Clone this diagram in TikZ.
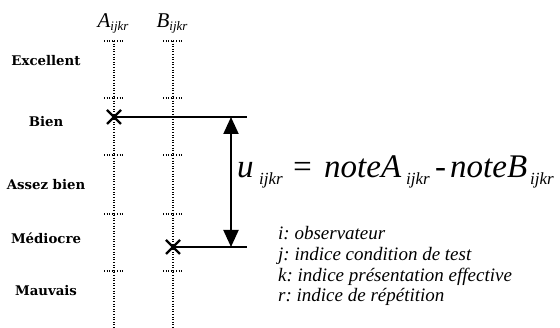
\documentclass[tikz,border=0pt]{standalone}
\usepackage{fontspec}
\setmainfont{Liberation Serif}
\newfontfamily\gradefont{DejaVu Serif}
\frenchspacing
\usetikzlibrary{arrows.meta,calc}
\tikzset{
  grade/.style={font=\gradefont\fontsize{13.3}{13.3}\selectfont\bfseries, anchor=center},
  scaleline/.style={line width=1.2pt, dash pattern=on 1pt off 1.6pt},
  mark cross/.style={line width=2.2pt},
  level/.style={line width=1.6pt},
  diffarrow/.style={line width=2pt, {Triangle[width=15pt,length=17pt]}-{Triangle[width=15pt,length=17pt]}},
  eqpart/.style={anchor=base west, inner sep=0pt, font=\fontsize{33}{33}\selectfont\itshape},
  eqsub/.style={anchor=base west, inner sep=0pt, font=\fontsize{17}{17}\selectfont\itshape},
  legend/.style={anchor=base west, inner sep=0pt, font=\fontsize{19}{19}\selectfont\itshape}
}
\newcommand{\ijkr}[1]{{\fontsize{#1}{#1}\selectfont\itshape ijkr}}
\begin{document}
\begin{tikzpicture}[x=1pt,y=-1pt]
\useasboundingbox (0,0) rectangle (560,328);

% grade labels
\node[grade] (exc) at (46,61) {Excellent};
\node[grade] (bien) at (46,122) {Bien};
\node[grade] (ab) at (46,185) {Assez bien};
\node[grade] (med) at (46,238) {Médiocre};
\node[grade] (mauv) at (46,291) {Mauvais};

% column headings
\node[anchor=base, inner sep=0pt] (hA) at (113,28)
  {{\fontsize{21}{21}\selectfont\itshape A}\raisebox{-3pt}{\ijkr{13}}};
\node[anchor=base, inner sep=0pt] (hB) at (172,28)
  {{\fontsize{21}{21}\selectfont\itshape B}\raisebox{-3pt}{\ijkr{13}}};

% rating scales
\foreach \sx/\nm in {114/A,173/B}{
  \coordinate (\nm top) at (\sx,41);
  \coordinate (\nm bot) at (\sx,328);
  \draw[scaleline] (\nm top) -- (\nm bot);
  \foreach \ty in {41,98,155,214,271}
    \draw[scaleline] (\sx-10,\ty) -- (\sx+9,\ty);
}

% marks and levels
\coordinate (mA) at (114,117);
\coordinate (mB) at (173,247);
\coordinate (eA) at (247,117);
\coordinate (eB) at (247,247);
\draw[mark cross] ($(mA)+(-7,-7)$) -- ($(mA)+(7,7)$) ($(mA)+(-7,7)$) -- ($(mA)+(7,-7)$);
\draw[mark cross] ($(mB)+(-7,-7)$) -- ($(mB)+(7,7)$) ($(mB)+(-7,7)$) -- ($(mB)+(7,-7)$);
\draw[level] (mA) -- (eA);
\draw[level] (mB) -- (eB);

% difference arrow
\coordinate (uA) at (231,117);
\coordinate (uB) at (231,247);
\draw[diffarrow] (uB) -- (uA);

% formula
\node[eqpart] (u) at (237,178) {u};
\node[eqsub] (us) at (259,185) {ijkr};
\node[eqpart] (eq) at (291,178) {=};
\node[eqpart] (nA) at (324,178) {noteA};
\node[eqsub] (nAs) at (406,185) {ijkr};
\node[eqpart] (minus) at (435,178) {-};
\node[eqpart] (nB) at (450,178) {noteB};
\node[eqsub] (nBs) at (530,185) {ijkr};

% legend
\node[legend] (li) at (278,240) {i: observateur};
\node[legend] (lj) at (278,261) {j: indice condition de test};
\node[legend] (lk) at (278,281.5) {k: indice présentation effective};
\node[legend] (lr) at (278,302) {r: indice de répétition};
\end{tikzpicture}
\end{document}
